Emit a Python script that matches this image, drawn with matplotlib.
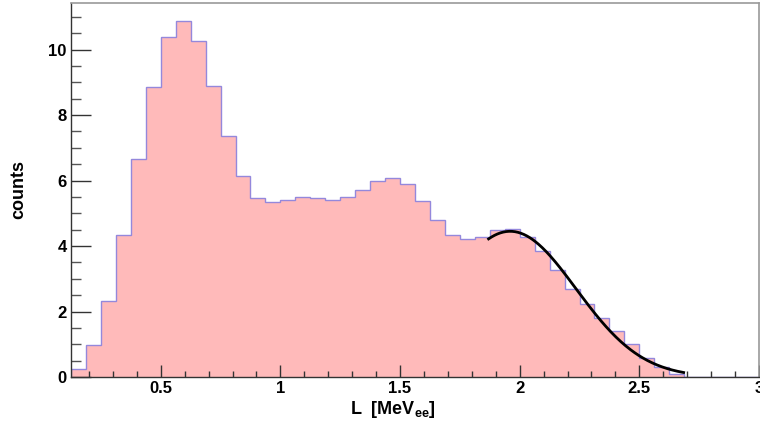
# Histograma de L con ajuste gaussiano (estilo ROOT)
import numpy as np
import matplotlib.pyplot as plt

# DATOS
# Bordes de los bins: ancho 0.0625, de 0.125 a 3.0
bin_width = 0.0625
x_min, x_max = 0.125, 3.0
# Cuentas por bin
counts = [0.23, 0.97, 2.33, 4.35, 6.67, 8.87, 10.39, 10.86, 10.26, 8.90,
          7.37, 6.14, 5.48, 5.33, 5.42, 5.49, 5.47, 5.42, 5.51, 5.72,
          5.99, 6.09, 5.89, 5.38, 4.81, 4.34, 4.21, 4.29, 4.48, 4.52,
          4.29, 3.84, 3.26, 2.70, 2.23, 1.81, 1.42, 1.00, 0.59, 0.31,
          0.10, 0.0, 0.0, 0.0, 0.0, 0.0]
edges = x_min + bin_width * np.arange(len(counts) + 1)

# Parámetros del ajuste gaussiano y su intervalo
fit_amp, fit_mean, fit_sigma = 4.45, 1.96, 0.275
fit_range = (1.87, 2.685)

x_ticks = [0.5, 1, 1.5, 2, 2.5, 3]
x_tick_labels = ["0.5", "1", "1.5", "2", "2.5", "3"]
y_ticks = [0, 2, 4, 6, 8, 10]

# GRAFICACIÓN
plt.rcParams['font.family'] = ['Liberation Sans', 'DejaVu Sans']
plt.rcParams['font.weight'] = 'bold'
plt.rcParams['mathtext.fontset'] = 'custom'
plt.rcParams['mathtext.rm'] = 'Liberation Sans:bold'
plt.rcParams['mathtext.bf'] = 'Liberation Sans:bold'

fig = plt.figure(figsize=(7.6, 4.23), dpi=100)
ax = fig.add_axes([0.0934, 0.1087, 0.9053, 0.8833])

# Relleno rosa y contorno azulado
ax.stairs(counts, edges, fill=True, color='#ffbaba', linewidth=0)
ax.stairs(counts, edges, color='#9488dc', linewidth=1.0)

# Curva del ajuste
xf = np.linspace(fit_range[0], fit_range[1], 200)
yf = fit_amp * np.exp(-0.5 * ((xf - fit_mean) / fit_sigma) ** 2)
ax.plot(xf, yf, color='black', linewidth=2)

ax.set_xlim(x_min, x_max)
ax.set_ylim(0, 11.41)

ax.set_xticks(x_ticks)
ax.set_xticklabels(x_tick_labels)
ax.set_xticks(np.arange(0.2, 3.0, 0.1), minor=True)
ax.set_yticks(y_ticks)
ax.set_yticks(np.arange(0, 11.4, 0.5), minor=True)

ax.tick_params(axis='x', which='major', direction='in', length=8.6,
               width=1, color='#333333', labelsize=12, pad=3)
ax.tick_params(axis='x', which='minor', direction='in', length=4.3,
               width=1, color='#333333')
ax.tick_params(axis='y', which='major', direction='in', length=14.4,
               width=1, color='#333333', labelsize=12, pad=3)
ax.tick_params(axis='y', which='minor', direction='in', length=7.2,
               width=1, color='#555555')

for lado in ['left', 'bottom']:
    ax.spines[lado].set_color('#333333')
    ax.spines[lado].set_linewidth(1)
for lado in ['top', 'right']:
    ax.spines[lado].set_color('#9a9a9a')
    ax.spines[lado].set_linewidth(1.2)

# Títulos de los ejes
fig.text(393 / 760, 1 - 409 / 423, r'L  [MeV$_{\mathregular{ee}}$]',
         ha='center', va='center', fontsize=13, fontweight='bold')
fig.text(19 / 760, 1 - 189 / 423, 'counts', rotation=90,
         ha='center', va='center', fontsize=13, fontweight='bold')

fig.savefig('out.png', dpi=100)
